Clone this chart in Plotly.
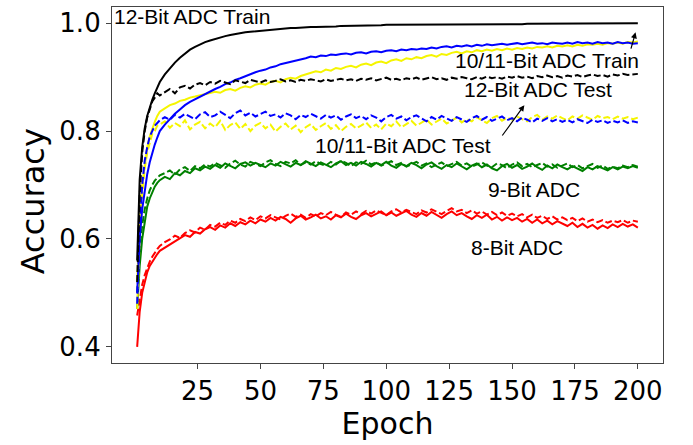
import plotly.graph_objects as go

# ---------------- data ----------------
EPOCHS = list(range(1, 11)) + list(range(12, 201, 2))

ACC_12BIT_TRAIN = [
    0.56, 0.71, 0.77, 0.805, 0.828, 0.845, 0.858, 0.870, 0.881, 0.891,
    0.905, 0.917, 0.927, 0.936, 0.944, 0.951, 0.956, 0.961, 0.965, 0.968,
    0.971, 0.974, 0.976, 0.978, 0.980, 0.982, 0.983, 0.984, 0.985, 0.986,
    0.987, 0.988, 0.989, 0.989, 0.990, 0.991, 0.991, 0.992, 0.992, 0.993,
    0.993, 0.993, 0.994, 0.994, 0.994, 0.995, 0.995, 0.995, 0.995, 0.996,
    0.996, 0.996, 0.996, 0.996, 0.997, 0.997, 0.997, 0.997, 0.997, 0.997,
    0.997, 0.998, 0.998, 0.998, 0.998, 0.998, 0.998, 0.998, 0.998, 0.998,
    0.998, 0.998, 0.998, 0.998, 0.998, 0.998, 0.998, 0.998, 0.998, 0.998,
    0.998, 0.998, 0.999, 0.999, 0.999, 0.999, 0.999, 0.999, 0.999, 0.999,
    0.999, 0.999, 0.999, 0.999, 0.999, 0.999, 0.999, 0.999, 0.999, 0.999,
    0.999, 0.999, 1.000, 1.000, 1.000,
]
ACC_12BIT_TEST = [
    0.52, 0.68, 0.76, 0.80, 0.825, 0.84, 0.855, 0.862, 0.870, 0.866,
    0.872, 0.878, 0.870, 0.881, 0.884, 0.879, 0.886, 0.889, 0.885, 0.891,
    0.888, 0.893, 0.890, 0.887, 0.894, 0.891, 0.889, 0.895, 0.892, 0.890,
    0.894, 0.891, 0.893, 0.896, 0.892, 0.894, 0.891, 0.895, 0.893, 0.896,
    0.894, 0.892, 0.896, 0.893, 0.895, 0.897, 0.894, 0.896, 0.893, 0.897,
    0.895, 0.898, 0.894, 0.896, 0.899, 0.895, 0.897, 0.894, 0.898, 0.896,
    0.899, 0.895, 0.897, 0.900, 0.896, 0.898, 0.895, 0.899, 0.897, 0.900,
    0.898, 0.896, 0.900, 0.897, 0.901, 0.898, 0.900, 0.897, 0.901, 0.899,
    0.902, 0.899, 0.901, 0.898, 0.902, 0.900, 0.903, 0.900, 0.902, 0.899,
    0.903, 0.901, 0.904, 0.900, 0.903, 0.905, 0.902, 0.904, 0.901, 0.905,
    0.903, 0.906, 0.904, 0.905, 0.906,
]
ACC_1011BIT_TRAIN_BLUE = [
    0.50, 0.60, 0.655, 0.69, 0.72, 0.742, 0.76, 0.775, 0.788, 0.800,
    0.812, 0.823, 0.832, 0.840, 0.848, 0.854, 0.859, 0.864, 0.869, 0.873,
    0.878, 0.882, 0.887, 0.890, 0.895, 0.898, 0.902, 0.905, 0.909, 0.912,
    0.914, 0.918, 0.920, 0.924, 0.926, 0.928, 0.931, 0.933, 0.935, 0.938,
    0.937, 0.940, 0.939, 0.942, 0.941, 0.943, 0.944, 0.942, 0.945, 0.946,
    0.944, 0.947, 0.948, 0.946, 0.949, 0.950, 0.948, 0.951, 0.950, 0.952,
    0.951, 0.953, 0.952, 0.955, 0.953, 0.956, 0.957, 0.955, 0.958, 0.957,
    0.959, 0.957, 0.960, 0.958, 0.961, 0.959, 0.960, 0.962, 0.960, 0.961,
    0.963, 0.961, 0.962, 0.964, 0.962, 0.963, 0.961, 0.964, 0.963, 0.962,
    0.964, 0.962, 0.965, 0.963, 0.964, 0.962, 0.965, 0.963, 0.964, 0.962,
    0.965, 0.963, 0.964, 0.962, 0.963,
]
ACC_1011BIT_TRAIN_YELLOW = [
    0.52, 0.64, 0.70, 0.74, 0.77, 0.79, 0.805, 0.817, 0.828, 0.836,
    0.842, 0.848, 0.851, 0.856, 0.858, 0.862, 0.864, 0.866, 0.869, 0.870,
    0.873, 0.871, 0.876, 0.878, 0.875, 0.880, 0.883, 0.881, 0.886, 0.888,
    0.886, 0.891, 0.893, 0.890, 0.896, 0.899, 0.897, 0.902, 0.905, 0.908,
    0.911, 0.909, 0.914, 0.912, 0.917, 0.915, 0.919, 0.921, 0.918, 0.923,
    0.925, 0.922, 0.927, 0.929, 0.926, 0.931, 0.933, 0.930, 0.935, 0.933,
    0.937, 0.935, 0.939, 0.941, 0.938, 0.943, 0.941, 0.945, 0.947, 0.944,
    0.948, 0.946, 0.950, 0.948, 0.951, 0.949, 0.952, 0.950, 0.953, 0.951,
    0.954, 0.952, 0.955, 0.953, 0.956, 0.955, 0.957, 0.955, 0.958, 0.957,
    0.959, 0.957, 0.960, 0.958, 0.961, 0.960, 0.962, 0.960, 0.963, 0.962,
    0.964, 0.962, 0.965, 0.964, 0.966,
]
ACC_1011BIT_TEST_BLUE = [
    0.48, 0.62, 0.70, 0.745, 0.77, 0.79, 0.80, 0.81, 0.815, 0.820,
    0.826, 0.821, 0.830, 0.825, 0.832, 0.827, 0.822, 0.831, 0.835, 0.826,
    0.829, 0.836, 0.830, 0.824, 0.833, 0.838, 0.829, 0.834, 0.827, 0.832,
    0.836, 0.828, 0.831, 0.825, 0.833, 0.829, 0.822, 0.830, 0.826, 0.832,
    0.827, 0.823, 0.830, 0.825, 0.829, 0.821, 0.827, 0.831, 0.824, 0.828,
    0.822, 0.829, 0.825, 0.818, 0.826, 0.830, 0.823, 0.827, 0.820, 0.826,
    0.829, 0.823, 0.818, 0.826, 0.821, 0.828, 0.824, 0.819, 0.826, 0.822,
    0.817, 0.824, 0.828, 0.821, 0.826, 0.819, 0.823, 0.827, 0.820, 0.824,
    0.818, 0.825, 0.821, 0.816, 0.823, 0.819, 0.824, 0.818, 0.822, 0.817,
    0.821, 0.816, 0.822, 0.819, 0.815, 0.821, 0.817, 0.820, 0.815, 0.819,
    0.816, 0.820, 0.815, 0.818, 0.816,
]
ACC_1011BIT_TEST_YELLOW = [
    0.47, 0.60, 0.68, 0.73, 0.76, 0.78, 0.795, 0.80, 0.81, 0.812,
    0.818, 0.806, 0.815, 0.809, 0.820, 0.803, 0.812, 0.817, 0.805, 0.814,
    0.807, 0.819, 0.802, 0.811, 0.816, 0.804, 0.813, 0.800, 0.810, 0.815,
    0.805, 0.812, 0.799, 0.808, 0.814, 0.803, 0.810, 0.798, 0.807, 0.813,
    0.802, 0.809, 0.815, 0.804, 0.811, 0.800, 0.808, 0.813, 0.805, 0.810,
    0.816, 0.806, 0.812, 0.803, 0.814, 0.809, 0.818, 0.807, 0.813, 0.819,
    0.810, 0.816, 0.821, 0.812, 0.818, 0.823, 0.814, 0.820, 0.825, 0.816,
    0.822, 0.818, 0.826, 0.820, 0.815, 0.824, 0.828, 0.819, 0.825, 0.821,
    0.827, 0.822, 0.818, 0.826, 0.830, 0.821, 0.827, 0.823, 0.829, 0.824,
    0.820, 0.827, 0.823, 0.829, 0.825, 0.821, 0.828, 0.824, 0.826, 0.822,
    0.827, 0.823, 0.826, 0.822, 0.825,
]
ACC_9BIT_TRAIN = [
    0.47, 0.55, 0.60, 0.635, 0.66, 0.675, 0.688, 0.697, 0.704, 0.709,
    0.715, 0.711, 0.722, 0.718, 0.726, 0.722, 0.731, 0.727, 0.734, 0.730,
    0.737, 0.732, 0.740, 0.735, 0.731, 0.739, 0.742, 0.736, 0.741, 0.737,
    0.733, 0.740, 0.736, 0.743, 0.738, 0.734, 0.741, 0.737, 0.744, 0.739,
    0.735, 0.742, 0.738, 0.733, 0.740, 0.744, 0.737, 0.741, 0.736, 0.743,
    0.739, 0.734, 0.741, 0.737, 0.743, 0.736, 0.732, 0.739, 0.735, 0.741,
    0.737, 0.731, 0.738, 0.742, 0.735, 0.730, 0.737, 0.733, 0.740, 0.734,
    0.729, 0.736, 0.740, 0.733, 0.738, 0.731, 0.727, 0.735, 0.739, 0.732,
    0.737, 0.730, 0.734, 0.740, 0.733, 0.728, 0.736, 0.731, 0.738, 0.733,
    0.729, 0.735, 0.731, 0.726, 0.733, 0.729, 0.735, 0.731, 0.727, 0.733,
    0.729, 0.734, 0.731, 0.735, 0.732,
]
ACC_9BIT_TEST = [
    0.50, 0.58, 0.625, 0.655, 0.675, 0.69, 0.70, 0.708, 0.713, 0.718,
    0.722, 0.727, 0.719, 0.729, 0.733, 0.726, 0.735, 0.731, 0.738, 0.734,
    0.741, 0.736, 0.732, 0.740, 0.745, 0.738, 0.734, 0.743, 0.739, 0.735,
    0.742, 0.746, 0.739, 0.735, 0.743, 0.740, 0.746, 0.737, 0.742, 0.738,
    0.744, 0.739, 0.736, 0.743, 0.738, 0.745, 0.741, 0.735, 0.742, 0.739,
    0.745, 0.738, 0.742, 0.736, 0.740, 0.744, 0.737, 0.741, 0.734, 0.739,
    0.743, 0.736, 0.740, 0.733, 0.738, 0.742, 0.735, 0.739, 0.743, 0.736,
    0.740, 0.734, 0.738, 0.742, 0.736, 0.733, 0.740, 0.737, 0.731, 0.738,
    0.742, 0.735, 0.739, 0.733, 0.737, 0.741, 0.734, 0.738, 0.732, 0.736,
    0.740, 0.733, 0.737, 0.731, 0.735, 0.739, 0.732, 0.736, 0.730, 0.734,
    0.731, 0.736, 0.733, 0.737, 0.734,
]
ACC_8BIT_TRAIN = [
    0.40, 0.465, 0.50, 0.522, 0.538, 0.55, 0.558, 0.565, 0.572, 0.578,
    0.584, 0.590, 0.596, 0.601, 0.607, 0.604, 0.613, 0.610, 0.618, 0.622,
    0.617, 0.625, 0.621, 0.629, 0.624, 0.631, 0.627, 0.634, 0.629, 0.636,
    0.632, 0.639, 0.634, 0.641, 0.637, 0.630, 0.638, 0.643, 0.636, 0.640,
    0.645, 0.638, 0.642, 0.636, 0.644, 0.640, 0.647, 0.641, 0.637, 0.644,
    0.648, 0.642, 0.646, 0.651, 0.644, 0.649, 0.643, 0.647, 0.652, 0.645,
    0.641, 0.648, 0.643, 0.650, 0.645, 0.639, 0.646, 0.651, 0.644, 0.648,
    0.642, 0.637, 0.644, 0.639, 0.645, 0.636, 0.641, 0.634, 0.640, 0.635,
    0.639, 0.632, 0.637, 0.630, 0.636, 0.629, 0.634, 0.627, 0.633, 0.628,
    0.624, 0.630, 0.622, 0.628, 0.621, 0.626, 0.619, 0.625, 0.620, 0.627,
    0.622, 0.628, 0.623, 0.627, 0.621,
]
ACC_8BIT_TEST = [
    0.458, 0.49, 0.515, 0.533, 0.547, 0.558, 0.567, 0.575, 0.581, 0.587,
    0.594, 0.599, 0.606, 0.602, 0.611, 0.616, 0.612, 0.621, 0.617, 0.626,
    0.623, 0.630, 0.626, 0.634, 0.630, 0.637, 0.633, 0.640, 0.635, 0.642,
    0.638, 0.644, 0.640, 0.636, 0.643, 0.647, 0.641, 0.645, 0.639, 0.646,
    0.642, 0.648, 0.644, 0.650, 0.645, 0.641, 0.649, 0.645, 0.651, 0.646,
    0.652, 0.647, 0.653, 0.648, 0.644, 0.651, 0.655, 0.649, 0.654, 0.650,
    0.646, 0.653, 0.649, 0.655, 0.650, 0.646, 0.652, 0.657, 0.651, 0.654,
    0.648, 0.653, 0.647, 0.651, 0.645, 0.650, 0.644, 0.649, 0.643, 0.647,
    0.642, 0.646, 0.640, 0.645, 0.639, 0.643, 0.637, 0.642, 0.636, 0.640,
    0.635, 0.639, 0.633, 0.638, 0.632, 0.636, 0.631, 0.635, 0.630, 0.634,
    0.631, 0.635, 0.630, 0.634, 0.632,
]

X_TICKS = [25, 50, 75, 100, 125, 150, 175, 200]
Y_TICKS = [0.4, 0.6, 0.8, 1.0]

# label text, x, y (data coordinates)
LABELS = [
    ("12-Bit ADC Train", -9.0, 1.012, "left"),
    ("10/11-Bit ADC Train", 164.0, 0.931, "center"),
    ("12-Bit ADC Test", 160.5, 0.877, "center"),
    ("10/11-Bit ADC Test", 106.6, 0.773, "center"),
    ("9-Bit ADC", 158.8, 0.692, "center"),
    ("8-Bit ADC", 152.0, 0.584, "center"),
]
# arrows: head x, head y, tail x, tail y
ARROWS = [
    (199.1, 0.983, 197.1, 0.950),
    (154.9, 0.848, 145.7, 0.789),
]

# ---------------- figure ----------------
BLUE = "#0000ff"
YELLOW = "#f5f500"
GREEN = "#008000"
RED = "#ff0000"
BLACK = "#000000"
DASH = "7px,3px"
LW = 2

series = [
    (ACC_8BIT_TRAIN, RED, "solid"),
    (ACC_8BIT_TEST, RED, DASH),
    (ACC_9BIT_TRAIN, GREEN, "solid"),
    (ACC_9BIT_TEST, GREEN, DASH),
    (ACC_1011BIT_TRAIN_YELLOW, YELLOW, "solid"),
    (ACC_1011BIT_TEST_YELLOW, YELLOW, DASH),
    (ACC_1011BIT_TRAIN_BLUE, BLUE, "solid"),
    (ACC_1011BIT_TEST_BLUE, BLUE, DASH),
    (ACC_12BIT_TRAIN, BLACK, "solid"),
    (ACC_12BIT_TEST, BLACK, DASH),
]

fig = go.Figure()
for vals, color, dash in series:
    fig.add_trace(go.Scatter(
        x=EPOCHS, y=vals, mode="lines",
        line=dict(color=color, width=LW, dash=dash),
        showlegend=False, hoverinfo="skip",
    ))

ann_font = dict(family="Liberation Sans, Arial, sans-serif", size=21, color="black")
for text, x, y, anchor in LABELS:
    fig.add_annotation(x=x, y=y, xref="x", yref="y", text=text, showarrow=False,
                       xanchor=anchor, yanchor="middle", font=ann_font)
for hx, hy, tx, ty in ARROWS:
    fig.add_annotation(x=hx, y=hy, ax=tx, ay=ty, xref="x", yref="y",
                       axref="x", ayref="y", text="", showarrow=True,
                       arrowhead=2, arrowsize=1, arrowwidth=1.2,
                       arrowcolor="black", standoff=0, startstandoff=0)

# y-axis title placed as a rotated annotation (sits slightly low in the reference)
fig.add_annotation(text="Accuracy", xref="paper", yref="paper",
                   x=-0.143, y=0.455, xanchor="center", yanchor="middle",
                   textangle=-90, showarrow=False,
                   font=dict(family="DejaVu Sans", size=32, color="black"))

axis_common = dict(
    showgrid=False, zeroline=False, showline=True, mirror=True,
    linecolor="#444444", linewidth=1.2,
    ticks="outside", ticklen=5, tickwidth=1.2, tickcolor="#444444",
    tickfont=dict(family="DejaVu Sans", size=26, color="black"),
)
fig.update_xaxes(range=[-9, 210], tickvals=X_TICKS,
                 title=dict(text="Epoch", font=dict(family="DejaVu Sans", size=30, color="black"),
                            standoff=4),
                 **axis_common)
fig.update_yaxes(range=[0.37, 1.03], tickvals=Y_TICKS, tickformat=".1f",
                 **axis_common)

fig.update_layout(
    width=693, height=445,
    margin=dict(l=112, r=30, t=7, b=82),
    paper_bgcolor="white", plot_bgcolor="white",
)

fig.write_html("out.html")
